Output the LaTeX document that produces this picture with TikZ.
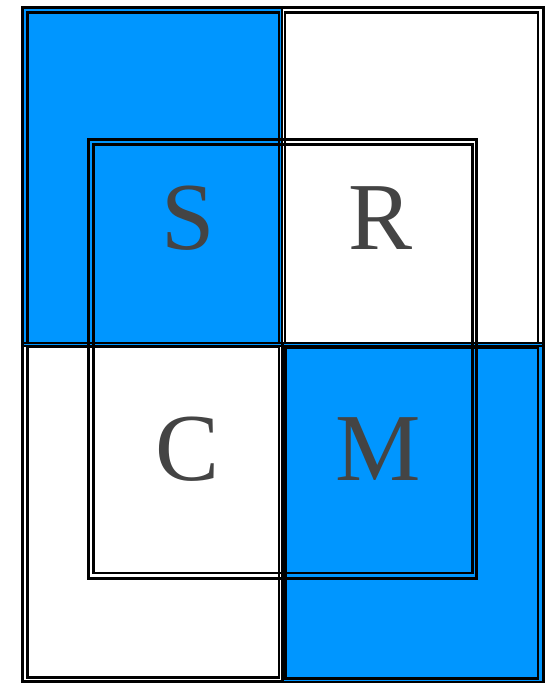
\documentclass[tikz,border=0pt]{standalone}
\usepackage{fontspec}
\setmainfont{Liberation Serif}
\definecolor{qblue}{RGB}{0,150,255}
\definecolor{lettergray}{RGB}{68,68,68}
\begin{document}
\begin{tikzpicture}[x=1pt,y=-1pt,
  dline/.style={draw=black,line width=2.6pt},
  letter/.style={text=lettergray,font=\fontsize{96}{96}\selectfont,inner sep=0pt}]
\useasboundingbox (0,0) rectangle (550,683);
% fills
\fill[qblue] (23,8) rectangle (282,346);
\fill[qblue] (282,343) rectangle (543,683);
% top-left quadrant
\draw[dline] (22.5,7.5) rectangle (282,346);
\draw[dline] (27.5,12.5) rectangle (279,343);
% top-right quadrant
\draw[dline] (282,7.5) rectangle (543.5,346);
\draw[dline] (285,12.5) rectangle (538,343);
% bottom-left quadrant
\draw[dline] (22.5,343) rectangle (283,681.5);
\draw[dline] (27.5,347) rectangle (279,677.5);
% bottom-right quadrant
\draw[dline] (282,343) rectangle (543.5,682);
\draw[dline] (285.5,348) rectangle (538,678.5);
% inner square
\draw[dline] (88.5,139.5) rectangle (476.5,578.5);
\draw[dline] (93.5,144.5) rectangle (472.5,573);
% letters
\node[letter] (S) at (188,218) {S};
\node[letter] (R) at (381,218) {R};
\node[letter] (C) at (188,449) {C};
\node[letter] (M) at (378,449) {M};
\end{tikzpicture}
\end{document}
